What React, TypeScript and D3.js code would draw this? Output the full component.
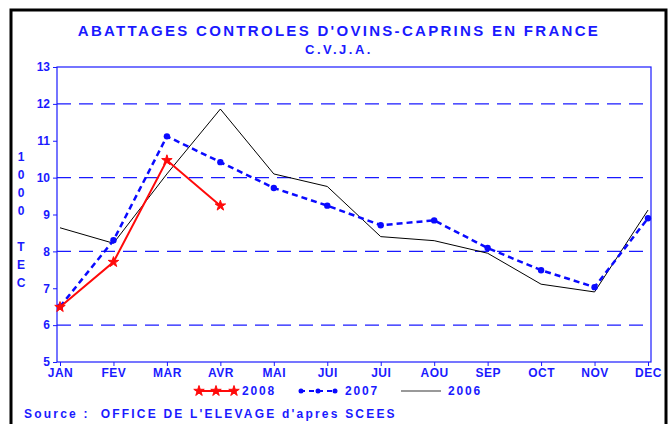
import React, { useEffect, useRef } from "react";
import * as d3 from "d3";

const months = ["JAN", "FEV", "MAR", "AVR", "MAI", "JUI", "JUI", "AOU", "SEP", "OCT", "NOV", "DEC"];
const yTicks = [5, 6, 7, 8, 9, 10, 11, 12, 13];
const gridLines = [6, 8, 10, 12];
const values2008 = [6.49, 7.71, 10.47, 9.24];
const values2007 = [6.5, 8.3, 11.12, 10.42, 9.72, 9.24, 8.71, 8.84, 8.09, 7.49, 7.03, 8.9];
const values2006 = [8.64, 8.22, 10.1, 11.86, 10.1, 9.76, 8.4, 8.29, 7.95, 7.11, 6.9, 9.12];
const yTitle = ["1", "0", "0", "0", "", "T", "E", "C"];

const BLUE = "#1a1aff";
const FONT = "'Liberation Sans', Arial, sans-serif";

export default function App() {
	const ref = useRef<SVGSVGElement>(null);

	useEffect(() => {
		const svg = d3.select(ref.current);
		svg.selectAll("*").remove();

		const left = 57, right = 651, top = 67, bottom = 362;
		const x = d3.scalePoint<number>().domain(d3.range(12)).range([60, 648]);
		const y = d3.scaleLinear().domain([5, 13]).range([bottom, top]);

		// outer frame
		svg.append("rect")
			.attr("x", 11).attr("y", 10).attr("width", 655).attr("height", 425)
			.attr("fill", "white").attr("stroke", "black").attr("stroke-width", 3);

		// titles
		svg.append("text").attr("x", 339).attr("y", 36).attr("text-anchor", "middle")
			.attr("font-family", FONT).attr("font-weight", "bold").attr("font-size", 15)
			.attr("letter-spacing", 2.3).attr("fill", BLUE)
			.text("ABATTAGES CONTROLES D'OVINS-CAPRINS EN FRANCE");
		svg.append("text").attr("x", 339).attr("y", 54).attr("text-anchor", "middle")
			.attr("font-family", FONT).attr("font-weight", "bold").attr("font-size", 13)
			.attr("letter-spacing", 2.5).attr("fill", BLUE)
			.text("C.V.J.A.");

		// grid
		svg.selectAll(".grid").data(gridLines).enter().append("line")
			.attr("x1", left).attr("x2", right)
			.attr("y1", (d) => y(d)).attr("y2", (d) => y(d))
			.attr("stroke", BLUE).attr("stroke-width", 1.2)
			.attr("stroke-dasharray", "14,8");

		// plot frame
		svg.append("rect")
			.attr("x", left).attr("y", top).attr("width", right - left).attr("height", bottom - top)
			.attr("fill", "none").attr("stroke", BLUE).attr("stroke-width", 1.2);

		// y axis
		const yAxis = svg.append("g").attr("transform", `translate(${left},0)`)
			.call(d3.axisLeft(y).tickValues(yTicks).tickSize(4).tickPadding(3));
		yAxis.select(".domain").remove();
		yAxis.selectAll("line").attr("stroke", BLUE);
		yAxis.selectAll("text").attr("fill", BLUE).attr("font-family", FONT)
			.attr("font-weight", "bold").attr("font-size", 12);

		// x axis
		const xAxis = svg.append("g").attr("transform", `translate(0,${bottom})`)
			.call(d3.axisBottom(x).tickSize(4).tickPadding(2).tickFormat((d) => months[d as number]));
		xAxis.select(".domain").remove();
		xAxis.selectAll("line").attr("stroke", BLUE);
		xAxis.selectAll("text").attr("fill", BLUE).attr("font-family", FONT)
			.attr("font-weight", "bold").attr("font-size", 12).attr("letter-spacing", 0.5);

		// y title
		svg.selectAll(".ytitle").data(yTitle).enter().append("text")
			.attr("x", 21).attr("y", (d, i) => 161 + i * 18).attr("text-anchor", "middle")
			.attr("font-family", FONT).attr("font-weight", "bold").attr("font-size", 12)
			.attr("fill", BLUE).text((d) => d);

		const line = d3.line<number>().x((d, i) => x(i) as number).y((d) => y(d));

		// 2006
		svg.append("path").datum(values2006).attr("d", line)
			.attr("fill", "none").attr("stroke", "black").attr("stroke-width", 1);

		// 2007
		svg.append("path").datum(values2007).attr("d", line)
			.attr("fill", "none").attr("stroke", "#0a0aff").attr("stroke-width", 2.5)
			.attr("stroke-dasharray", "6,4");
		svg.selectAll(".dot07").data(values2007).enter().append("circle")
			.attr("cx", (d, i) => x(i) as number).attr("cy", (d) => y(d)).attr("r", 3.2)
			.attr("fill", "#0a0aff");

		// 2008
		const star = d3.symbol().type(d3.symbolStar).size(34);
		svg.append("path").datum(values2008).attr("d", line)
			.attr("fill", "none").attr("stroke", "#ff0a0a").attr("stroke-width", 2);
		svg.selectAll(".star08").data(values2008).enter().append("path")
			.attr("d", star)
			.attr("transform", (d, i) => `translate(${x(i)},${y(d)})`)
			.attr("fill", "#ff0a0a").attr("stroke", "#ff0a0a").attr("stroke-width", 1);

		// legend
		const ly = 391;
		const lg = svg.append("g");
		lg.append("line").attr("x1", 198).attr("x2", 235).attr("y1", ly).attr("y2", ly)
			.attr("stroke", "#ff0a0a").attr("stroke-width", 2);
		[199, 216, 234].forEach((sx) => {
			lg.append("path").attr("d", star).attr("transform", `translate(${sx},${ly})`)
				.attr("fill", "#ff0a0a").attr("stroke", "#ff0a0a").attr("stroke-width", 1);
		});
		lg.append("line").attr("x1", 300).attr("x2", 336).attr("y1", ly).attr("y2", ly)
			.attr("stroke", "#0a0aff").attr("stroke-width", 2).attr("stroke-dasharray", "5,4");
		[301, 318, 335].forEach((sx) => {
			lg.append("circle").attr("cx", sx).attr("cy", ly).attr("r", 2.5).attr("fill", "#0a0aff");
		});
		lg.append("line").attr("x1", 401).attr("x2", 441).attr("y1", ly).attr("y2", ly)
			.attr("stroke", "#777").attr("stroke-width", 1.5);
		[["2008", 242], ["2007", 345], ["2006", 448]].forEach(([t, tx]) => {
			lg.append("text").attr("x", tx as number).attr("y", ly + 4)
				.attr("font-family", FONT).attr("font-weight", "bold").attr("font-size", 12)
				.attr("letter-spacing", 1.8).attr("fill", BLUE).text(t as string);
		});

		// source
		svg.append("text").attr("x", 24).attr("y", 418)
			.attr("font-family", FONT).attr("font-weight", "bold").attr("font-size", 12)
			.attr("letter-spacing", 2.2).attr("fill", BLUE).attr("xml:space", "preserve")
			.text("Source :  OFFICE DE L'ELEVAGE d'apres SCEES");
	}, []);

	return (
		<svg ref={ref} width={669} height={424}
			style={{ position: "absolute", left: 0, top: 0, background: "white" }} />
	);
}
